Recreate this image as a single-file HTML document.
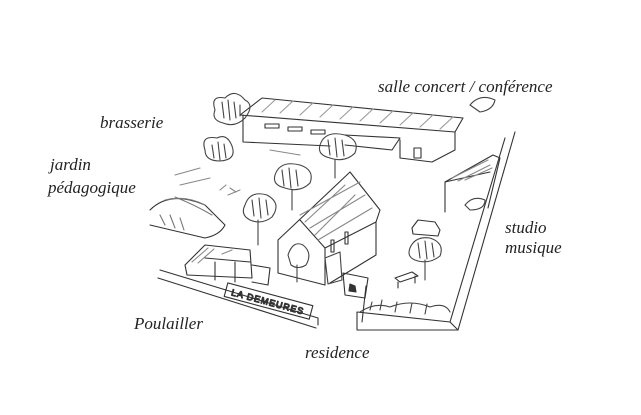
<!DOCTYPE html>
<html><head><meta charset="utf-8"><style>
html,body{margin:0;padding:0;background:#fff;}
svg{display:block}
text{font-family:"Liberation Serif",serif;font-style:italic;fill:#222;font-size:17px}
</style></head><body>
<svg width="641" height="415" viewBox="0 0 641 415" xmlns="http://www.w3.org/2000/svg">
<g stroke="#333" stroke-width="1.1" fill="none" stroke-linecap="round" stroke-linejoin="round">
<!-- big hall -->
<path d="M240,115 L262,98 L463,118 L455,132 Z"/>
<path d="M243,115 L243,142 L330,146"/>
<path d="M455,132 L455,150 L432,162 L400,158 L400,140"/>
<path d="M345,135 L400,138 L392,150 L345,145"/>
<rect x="265" y="124" width="14" height="4"/><rect x="288" y="127" width="14" height="4"/><rect x="311" y="130" width="14" height="4"/>
<rect x="414" y="148" width="7" height="10"/>
<path d="M262,112 L275,100 M280,113 L293,101 M300,115 L313,103 M320,117 L333,105 M340,119 L353,107 M360,121 L373,109 M380,123 L393,111 M400,125 L413,113 M420,127 L433,115 M440,129 L453,117" stroke="#999"/>
<!-- residence -->
<path d="M278,240 L350,172 L380,210 L376,222"/>
<path d="M278,240 L278,273 L325,285 L325,248 L300,220"/>
<path d="M325,248 L376,222 L376,255 L330,283"/>
<path d="M300,215 L360,182 M310,228 L365,195 M318,240 L372,208 M305,222 L345,185 M315,235 L355,195" stroke="#888"/>
<rect x="331" y="240" width="3" height="12"/><rect x="345" y="232" width="3" height="12"/>
<path d="M325,258 L340,252 L342,280 L328,284 Z" stroke="#444"/>
<!-- studio -->
<path d="M445,182 L493,155 L500,158 L488,208"/>
<path d="M445,182 L445,212 M445,182 L490,172"/>
<path d="M452,178 L488,160 M458,181 L490,165 M465,180 L492,168" stroke="#888"/>
<!-- right wall -->
<path d="M515,132 L458,330 M505,138 L450,322"/>
<path d="M357,312 L450,322 L458,330 L357,330 L357,312"/>
<!-- left wall -->
<path d="M160,270 L318,318 L318,325 M158,278 L316,328"/>
<g transform="rotate(15 268 303)"><rect x="224" y="294" width="88" height="14"/>
<text x="230" y="305" style="font-style:normal;font-size:9px;font-family:'Liberation Sans',sans-serif;letter-spacing:1px">LA DEMEURES</text></g>
<!-- greenhouse -->
<path d="M150,210 Q170,190 205,205 L225,225 Q220,235 205,238 L150,225"/>
<path d="M165,200 Q185,195 205,205 M175,197 Q195,205 212,215 M160,215 L165,225 M170,215 L175,228 M180,218 L184,230" stroke="#777"/>
<!-- poulailler -->
<path d="M185,265 L205,245 L250,250 L252,278 L187,275 Z"/>
<path d="M215,262 L215,280 M235,262 L235,282 M205,258 L250,262"/>
<path d="M252,265 L270,268 L268,285 L252,282"/>
<path d="M192,262 L208,248 M198,263 L214,249 M222,254 L232,250" stroke="#888"/>
<!-- flag -->
<path d="M343,273 L368,278 L365,298 L345,295 Z M366,286 L362,322"/>
<path d="M350,284 l5,2 l1,6 l-7,-1 z" fill="#333"/>
<!-- trees -->
<g stroke="#444">
<path d="M215,110 q-5,-15 10,-12 q10,-10 20,2 q10,5 0,18 q-10,10 -22,5 q-12,-3 -8,-13z"/>
<path d="M222,102 L224,118 M228,100 L230,120 M234,102 L236,118 M240,105 L240,116"/>
<path d="M205,150 q-5,-15 12,-12 q10,-5 15,8 q5,14 -12,15 q-15,0 -15,-11z"/>
<path d="M212,145 L214,158 M218,142 L220,160 M224,144 L226,158"/>
<path d="M320,145 q5,-15 25,-10 q15,5 10,18 q-10,10 -25,5 q-13,-3 -10,-13z M335,160 L335,178"/>
<path d="M328,140 L330,155 M335,138 L337,157 M342,140 L344,156"/>
<path d="M275,175 q5,-15 25,-10 q15,5 10,18 q-10,10 -25,5 q-13,-3 -10,-13z M292,190 L292,210"/>
<path d="M282,170 L284,186 M289,168 L291,188 M296,170 L298,186"/>
<path d="M245,205 q5,-15 22,-10 q15,8 5,22 q-10,8 -22,3 q-10,-5 -5,-15z M258,220 L258,245"/>
<path d="M252,200 L254,216 M259,198 L261,218 M266,200 L268,215"/>
<path d="M288,255 q5,-15 15,-10 q10,8 3,20 q-8,5 -15,0z M297,265 L297,282"/>
<path d="M410,248 q5,-12 20,-10 q15,5 10,18 q-10,8 -22,5 q-12,-3 -8,-13z M425,260 L425,280"/>
<path d="M418,243 L420,258 M425,241 L427,259 M432,243 L434,257"/>
<path d="M470,105 q10,-12 25,-5 q-2,10 -15,12z M465,205 q8,-10 20,-5 q0,10 -15,10z"/>
<path d="M360,312 q15,-10 30,-5 q20,-8 40,0 q15,-5 20,5"/>
<path d="M370,310 L372,302 M380,310 L382,300 M395,312 L397,302 M410,313 L412,303 M425,314 L427,304"/>
</g>
<!-- van, bench -->
<path d="M412,228 L418,220 L435,222 L440,230 L438,236 L413,234 Z"/>
<path d="M395,278 L412,272 L418,276 L400,282 Z M398,282 L398,288 M415,276 L415,283"/>
<!-- hatching lines -->
<path d="M175,175 L200,168 M180,185 L210,178 M270,150 L300,155 M220,190 L226,185 M230,188 L236,192 M228,195 L240,190" stroke="#888"/>
</g>
<text x="378" y="92">salle concert / conférence</text>
<text x="100" y="128">brasserie</text>
<text x="50" y="170">jardin</text>
<text x="48" y="193">pédagogique</text>
<text x="505" y="233">studio</text>
<text x="505" y="253">musique</text>
<text x="134" y="329">Poulailler</text>
<text x="305" y="358">residence</text>
</svg>
</body></html>
